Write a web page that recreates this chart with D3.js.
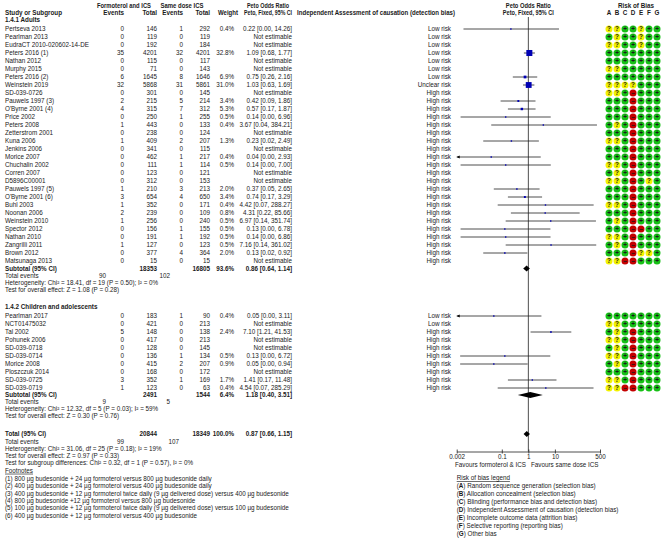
<!DOCTYPE html>
<html><head><meta charset="utf-8">
<script src="https://cdn.jsdelivr.net/npm/d3@7"></script>
<style>
body{margin:0;background:#fff}
text{font-family:"Liberation Sans",Arial,sans-serif;font-size:6.3px;fill:#1a1a1a}
</style>
</head><body><svg id="c" width="672" height="544"></svg>
<script>
// ---------------- DATA ----------------
const adultStudies = ["Pertseva 2013","Pearlman 2013","EudraCT 2010-020602-14-DE","Peters 2016 (1)","Nathan 2012","Murphy 2015","Peters 2016 (2)","Weinstein 2019","SD-039-0726","Pauwels 1997 (3)","O'Byrne 2001 (4)","Price 2002","Peters 2008","Zetterstrom 2001","Kuna 2006","Jenkins 2006","Morice 2007","Chuchalin 2002","Corren 2007","D5896C00001","Pauwels 1997 (5)","O'Byrne 2001 (6)","Buhl 2003","Noonan 2006","Weinstein 2010","Spector 2012","Nathan 2010","Zangrilli 2011","Brown 2012","Matsunaga 2013"];
const adultE1 = [0,0,0,35,0,0,6,32,0,2,4,0,1,0,1,0,0,0,0,0,1,3,1,2,1,0,0,1,0,0];
const adultN1 = [146,119,192,4201,115,71,1645,5868,301,215,315,250,443,238,409,341,462,111,123,312,210,654,352,239,256,156,191,127,377,15];
const adultE2 = [1,0,0,32,0,0,8,31,0,5,7,1,0,0,2,0,1,1,0,0,3,4,0,0,0,1,1,0,4,0];
const adultN2 = [292,119,184,4201,117,143,1646,5861,145,214,312,255,133,124,207,115,217,114,121,153,213,650,171,109,240,155,192,123,364,15];
const adultW  = [0.4,null,null,32.8,null,null,6.9,31.0,null,3.4,5.3,0.5,0.4,null,1.3,null,0.4,0.5,null,null,2.0,3.4,0.4,0.8,0.5,0.5,0.5,0.5,2.0,null];
const adultOR = [0.22,null,null,1.09,null,null,0.75,1.03,null,0.42,0.57,0.14,3.67,null,0.23,null,0.04,0.14,null,null,0.37,0.74,4.42,4.31,6.97,0.13,0.14,7.16,0.13,null];
const adultLo = [0.0036,null,null,0.68,null,null,0.26,0.63,null,0.09,0.17,0.0028,0.04,null,0.02,null,0.0005,0.0028,null,null,0.05,0.17,0.07,0.22,0.14,0.0028,0.0028,0.14,0.02,null];
const adultHi = [14.26,null,null,1.77,null,null,2.16,1.69,null,1.86,1.87,6.96,384.21,null,2.49,null,2.93,7.00,null,null,2.65,3.29,288.27,85.66,351.74,6.78,6.86,361.02,0.92,null];
const adultRisk = ["Low risk","Low risk","Low risk","Low risk","Low risk","Low risk","Low risk","Unclear risk","High risk","High risk","High risk","High risk","High risk","High risk","High risk","High risk","High risk","High risk","High risk","High risk","High risk","High risk","High risk","High risk","High risk","High risk","High risk","High risk","High risk","High risk"];
const adultBias = ["yyggygg","gyggygg","yyggygg","ggggggg","ggggggg","yyggggg","ggggggg","yyyyggg","yygrggg","gggrggg","gggrggg","gggrggg","gygrggg","gggrggg","yygrggg","gggrggg","gggrggg","yygrggg","gygrggg","yygrgyg","gggrggg","gggrggg","yygrggg","gggrggg","gygrggg","gggrrgg","yygrggg","gygrggg","gggryyg","yyrrggg"];

const childStudies = ["Pearlman 2017","NCT01475032","Tal 2002","Pohunek 2006","SD-039-0718","SD-039-0714","Morice 2008","Ploszczuk 2014","SD-039-0725","SD-039-0719"];
const childE1 = [0,0,5,0,0,0,0,0,3,1];
const childN1 = [183,421,148,417,128,136,415,168,352,123];
const childE2 = [1,0,0,0,0,1,2,0,1,0];
const childN2 = [90,213,138,213,145,134,207,172,169,63];
const childW  = [0.4,null,2.4,null,null,0.5,0.9,null,1.7,0.4];
const childOR = [0.05,null,7.10,null,null,0.13,0.05,null,1.41,4.54];
const childLo = [0.001,null,1.21,null,null,0.0027,0.0027,null,0.17,0.07];
const childHi = [3.11,null,41.53,null,null,6.72,0.94,null,11.48,285.29];
const childRisk = ["Low risk","Low risk","High risk","High risk","High risk","High risk","High risk","High risk","High risk","High risk"];
const childBias = ["ggggggg","yyggggg","gygrggg","yygrggg","gygrggg","yygrggg","gygrggg","gggrggg","yygrggg","yyrrggg"];

const subtotalN1 = [18353, 2491];
const subtotalN2 = [16805, 1544];
const subtotalW  = [93.6, 6.4];
const subtotalOR = [0.86, 1.18];
const subtotalLo = [0.64, 0.40];
const subtotalHi = [1.14, 3.51];
const subtotalEv1 = [90, 9];
const subtotalEv2 = [102, 5];
const subtotalHet = ["Heterogeneity: Chi\u00b2 = 18.41, df = 19 (P = 0.50); I\u00b2 = 0%","Heterogeneity: Chi\u00b2 = 12.32, df = 5 (P = 0.03); I\u00b2 = 59%"];
const subtotalTest = ["Test for overall effect: Z = 1.08 (P = 0.28)","Test for overall effect: Z = 0.30 (P = 0.76)"];
const groupTitles = ["1.4.1 Adults","1.4.2 Children and adolescents"];

const totalN = [20844, 18349];
const totalEv = [99, 107];
const totalOR = [0.87, 0.66, 1.15];
const totalLines = ["Heterogeneity: Chi\u00b2 = 31.06, df = 25 (P = 0.18); I\u00b2 = 19%","Test for overall effect: Z = 0.97 (P = 0.33)","Test for subgroup differences: Chi\u00b2 = 0.32, df = 1 (P = 0.57), I\u00b2 = 0%"];
const footnotes = ["(1) 800 \u00b5g budesonide + 24 \u00b5g formoterol versus 800 \u00b5g budesonide daily","(2) 400 \u00b5g budesonide + 24 \u00b5g formoterol versus 400 \u00b5g budesonide daily","(3) 400 \u00b5g budesonide + 12 \u00b5g formoterol twice daily (9 \u00b5g delivered dose) versus 400 \u00b5g budesonide","(4) 800 \u00b5g budesonide +12 \u00b5g formoterol versus 800 \u00b5g budesonide","(5) 100 \u00b5g budesonide + 12 \u00b5g formoterol twice daily (9 \u00b5g delivered dose) versus 100 \u00b5g budesonide","(6) 400 \u00b5g budesonide + 12 \u00b5g formoterol versus 400 \u00b5g budesonide"];
const biasLetters = ["A","B","C","D","E","F","G"];
const biasLegend = ["Random sequence generation (selection bias)","Allocation concealment (selection bias)","Blinding (performance bias and detection bias)","Independent Assessment of causation (detection bias)","Incomplete outcome data (attrition bias)","Selective reporting (reporting bias)","Other bias"];
const axisTicks = [0.002, 0.1, 1, 10, 500];
const axisTickLabels = ["0.002","0.1","1","10","500"];

// ---------------- DRAW ----------------
const svg = d3.select("#c");
const g = svg.append("g");
const xOR = d3.scaleLog().domain([0.002, 500]).range([456.7, 600]);
const xBias = d3.scalePoint().domain(biasLetters).range([609, 657]);
const col = {study:5, e1:124, n1:157, e2:183, n2:210, w:234, ci:292, risk:451};

function T(x, y, s, anchor, bold, parent){
  const t = (parent||g).append("text").attr("x", x).attr("y", y).attr("dy","0.35em")
    .attr("text-anchor", anchor||"start").text(s);
  if (bold) t.attr("font-weight","bold");
  return t;
}
const f2 = d3.format(".2f");
const ciText = (o,l,h) => `${f2(o)} [${f2(l)}, ${f2(h)}]`;

// headers
T(124, 6, "Formoterol and ICS", "middle", true).attr("textLength",54).attr("lengthAdjust","spacingAndGlyphs");
T(182, 6, "Same dose ICS", "middle", true).attr("textLength",43).attr("lengthAdjust","spacingAndGlyphs");
T(268, 6, "Peto Odds Ratio", "middle", true).attr("textLength",42).attr("lengthAdjust","spacingAndGlyphs");
T(xOR(1), 6, "Peto Odds Ratio", "middle", true).attr("textLength",45).attr("lengthAdjust","spacingAndGlyphs");
T(636, 6, "Risk of Bias", "middle", true);
T(col.study, 13, "Study or Subgroup", "start", true);
T(col.e1, 13, "Events", "end", true);
T(col.n1, 13, "Total", "end", true);
T(col.e2, 13, "Events", "end", true);
T(col.n2, 13, "Total", "end", true);
T(238, 13, "Weight", "end", true).attr("textLength",20).attr("lengthAdjust","spacingAndGlyphs");
T(col.ci, 13, "Peto, Fixed, 95% CI", "end", true).attr("textLength",48).attr("lengthAdjust","spacingAndGlyphs");
T(297, 13, "Independent Assessment of causation (detection bias)", "start", true).attr("textLength",158).attr("lengthAdjust","spacingAndGlyphs");
T(xOR(1), 13, "Peto, Fixed, 95% CI", "middle", true).attr("textLength",51).attr("lengthAdjust","spacingAndGlyphs");
biasLetters.forEach(l => T(xBias(l), 13, l, "middle", true));

// reference line
g.append("line").attr("x1", xOR(1)).attr("x2", xOR(1)).attr("y1", 17).attr("y2", 451.5)
  .attr("stroke","#222").attr("stroke-width",0.8);

const biasColor = {g:"#16c016", y:"#f2f200", r:"#c40000"};
const biasSym = {g:"+", y:"?", r:"\u2013"};

function drawStudies(names,E1,N1,E2,N2,W,OR,LO,HI,RISK,BIAS,y0){
  names.forEach((nm,i) => {
    const y = y0 + 8*i;
    T(col.study, y, nm);
    T(col.e1, y, E1[i], "end");
    T(col.n1, y, N1[i], "end");
    T(col.e2, y, E2[i], "end");
    T(col.n2, y, N2[i], "end");
    if (W[i] != null) T(col.w, y, W[i].toFixed(1)+"%", "end");
    T(col.ci, y, OR[i]==null ? "Not estimable" : ciText(OR[i],LO[i],HI[i]), "end");
    T(col.risk, y, RISK[i], "end");
    if (OR[i] != null){
      const [d0,d1] = xOR.domain();
      const lo = Math.max(LO[i], d0), hi = Math.min(HI[i], d1);
      g.append("line").attr("x1", xOR(lo)).attr("x2", xOR(hi)).attr("y1", y).attr("y2", y)
        .attr("stroke","#222").attr("stroke-width",0.8);
      if (LO[i] < d0){
        const ax = xOR(d0);
        g.append("path").attr("d",`M${ax},${y}L${ax+3},${y-1.6}L${ax+3},${y+1.6}Z`).attr("fill","#000");
      }
      const s = Math.max(1.4, Math.sqrt(W[i])*1.05);
      g.append("rect").attr("x", xOR(OR[i])-s/2).attr("y", y-s/2).attr("width", s).attr("height", s)
        .attr("fill","#0000b4");
    }
    BIAS[i].split("").forEach((c,j) => {
      const cx = xBias(biasLetters[j]);
      g.append("circle").attr("cx",cx).attr("cy",y).attr("r",3.5).attr("fill",biasColor[c]);
      g.append("text").attr("x",cx).attr("y",y).attr("dy","0.36em").attr("text-anchor","middle")
        .attr("font-size", c==="g"?"5px":"4.6px").attr("font-weight","bold").text(biasSym[c]);
    });
  });
}

function diamond(o,l,h,y){
  g.append("path").attr("d",`M${xOR(l)},${y}L${xOR(o)},${y-3}L${xOR(h)},${y}L${xOR(o)},${y+3}Z`).attr("fill","#000");
}

function drawSubtotal(k, yS){
  T(col.study, yS, "Subtotal (95% CI)", "start", true);
  T(col.n1, yS, subtotalN1[k], "end", true);
  T(col.n2, yS, subtotalN2[k], "end", true);
  T(col.w, yS, subtotalW[k].toFixed(1)+"%", "end", true);
  T(col.ci, yS, ciText(subtotalOR[k],subtotalLo[k],subtotalHi[k]), "end", true);
  diamond(subtotalOR[k],subtotalLo[k],subtotalHi[k], yS);
  T(col.study, yS+7, "Total events");
  T(106, yS+7, subtotalEv1[k], "end");
  T(170, yS+7, subtotalEv2[k], "end");
  T(col.study, yS+14, subtotalHet[k]);
  T(col.study, yS+21, subtotalTest[k]);
}

// Adults
T(col.study, 20, groupTitles[0], "start", true);
drawStudies(adultStudies,adultE1,adultN1,adultE2,adultN2,adultW,adultOR,adultLo,adultHi,adultRisk,adultBias,29);
drawSubtotal(0, 268.5);

// Children
T(col.study, 307, groupTitles[1], "start", true);
drawStudies(childStudies,childE1,childN1,childE2,childN2,childW,childOR,childLo,childHi,childRisk,childBias,316);
drawSubtotal(1, 395);

// Total
const yT = 434;
T(col.study, yT, "Total (95% CI)", "start", true);
T(col.n1, yT, totalN[0], "end", true);
T(col.n2, yT, totalN[1], "end", true);
T(col.w, yT, "100.0%", "end", true);
T(col.ci, yT, ciText(totalOR[0],totalOR[1],totalOR[2]), "end", true);
diamond(totalOR[0],totalOR[1],totalOR[2], yT);
T(col.study, yT+8, "Total events");
T(124, yT+8, totalEv[0], "end");
T(179, yT+8, totalEv[1], "end");
totalLines.forEach((s,i) => T(col.study, yT+15+7*i, s));

// Footnotes
T(col.study, 470.5, "Footnotes").attr("text-decoration","underline");
footnotes.forEach((s,i) => T(col.study, 478.5+7.4*i, s));

// Axis
const ax = g.append("g").attr("transform","translate(0,451.5)")
  .call(d3.axisBottom(xOR).tickValues(axisTicks).tickFormat((d,i)=>axisTickLabels[i]).tickSizeOuter(0).tickSizeInner(2).tickPadding(1));
ax.select(".domain").attr("stroke","#222").attr("stroke-width",0.8);
ax.selectAll(".tick line").attr("y1",-2).attr("stroke","#222").attr("stroke-width",0.8);
ax.selectAll(".tick text").attr("font-size","6.3px").attr("font-family","Liberation Sans, Arial, sans-serif").attr("fill","#1a1a1a");
T(526, 464.5, "Favours formoterol & ICS", "end");
T(531, 464.5, "Favours same dose ICS", "start");

// Risk of bias legend
T(456.7, 478, "Risk of bias legend").attr("text-decoration","underline");
biasLetters.forEach((l,i) => {
  const t = T(456.7, 486+8*i, "");
  t.append("tspan").text("(");
  t.append("tspan").attr("font-weight","bold").text(l);
  t.append("tspan").text(") " + biasLegend[i]);
});
</script>
</body></html>
